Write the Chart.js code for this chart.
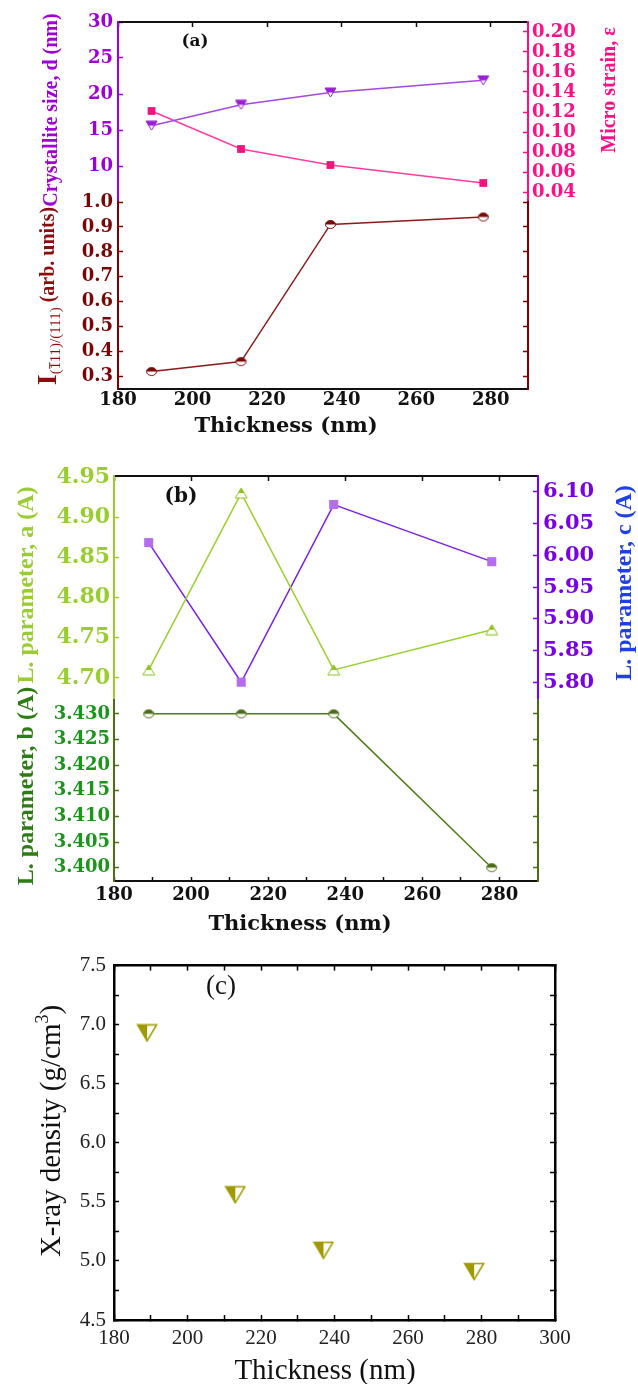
<!DOCTYPE html>
<html>
<head>
<meta charset="utf-8">
<script src="https://cdn.jsdelivr.net/npm/chart.js@4.4.0/dist/chart.umd.min.js"></script>
<style>
  html, body { margin: 0; padding: 0; background: #fff; }
  body { width: 638px; height: 1384px; position: relative; overflow: hidden; }
  canvas { position: absolute; left: 0; display: block; }
</style>
</head>
<body>
<canvas id="chA" width="638" height="445" style="top:0"></canvas>
<canvas id="chB" width="638" height="495" style="top:445px"></canvas>
<canvas id="chC" width="638" height="444" style="top:940px"></canvas>
<script>
// film thickness (nm)
var thickness = [189, 213, 237, 278];

// (a) crystallite size, micro strain, peak intensity ratio
var crystalliteSize = [15.6, 18.5, 20.2, 21.9];
var microStrain = [0.121, 0.083, 0.067, 0.049];
var intensityRatio = [0.32, 0.36, 0.91, 0.94];

// (b) lattice parameters
var latticeA = [4.71, 4.93, 4.71, 4.76];
var latticeB = [3.430, 3.430, 3.430, 3.400];
var latticeC = [6.02, 5.80, 6.08, 5.99];

// (c) x-ray density
var xrayDensity = [6.93, 5.56, 5.09, 4.91];

// tick labels
var thicknessTicks = [180, 200, 220, 240, 260, 280];
var thicknessMinorB = [190, 210, 230, 250, 270];
var sizeTicks = [10, 15, 20, 25, 30];
var strainTicks = [0.04, 0.06, 0.08, 0.10, 0.12, 0.14, 0.16, 0.18, 0.20];
var intensityTicks = [0.3, 0.4, 0.5, 0.6, 0.7, 0.8, 0.9, 1.0];
var aTicks = [4.70, 4.75, 4.80, 4.85, 4.90, 4.95];
var bTicks = [3.400, 3.405, 3.410, 3.415, 3.420, 3.425, 3.430];
var cTicks = [5.80, 5.85, 5.90, 5.95, 6.00, 6.05, 6.10];
var densityTicks = [4.5, 5.0, 5.5, 6.0, 6.5, 7.0, 7.5];
var densityMinor = [4.75, 5.25, 5.75, 6.25, 6.75, 7.25];
var thicknessTicksC = [180, 200, 220, 240, 260, 280, 300];
var thicknessMinorC = [190, 210, 230, 250, 270, 290];

function pairs(values) {
  return thickness.map(function (t, i) { return {x: t, y: values[i]}; });
}

// small canvases used as point styles
function marker(w, h, color, draw) {
  var c = document.createElement('canvas');
  c.width = w + 2; c.height = h + 2;
  var g = c.getContext('2d');
  g.translate(1, 1);
  g.lineWidth = 1;
  g.strokeStyle = color;
  draw(g, w, h, color);
  return c;
}
function poly(g, pts) {
  g.beginPath();
  g.moveTo(pts[0][0], pts[0][1]);
  for (var i = 1; i < pts.length; i++) g.lineTo(pts[i][0], pts[i][1]);
  g.closePath();
}
function halfDisc(g, w, h, color) {
  g.beginPath(); g.ellipse(w / 2, h / 2, w / 2 - 0.5, h / 2 - 0.5, 0, 0, Math.PI * 2);
  g.fillStyle = '#fff'; g.fill(); g.stroke();
  g.beginPath(); g.ellipse(w / 2, h / 2, w / 2 - 0.5, h / 2 - 0.5, 0, Math.PI, 0); g.closePath();
  g.fillStyle = color; g.fill();
}
function triDownTop(g, w, h, color) {
  poly(g, [[0, 0], [w, 0], [w / 2, h]]); g.fillStyle = '#fff'; g.fill(); g.stroke();
  poly(g, [[0, 0], [w, 0], [w * 0.75, h / 2], [w * 0.25, h / 2]]); g.fillStyle = color; g.fill();
}
function triUpTop(g, w, h, color) {
  poly(g, [[w / 2, 0], [w, h], [0, h]]); g.fillStyle = '#fff'; g.fill(); g.stroke();
  poly(g, [[w / 2, 0], [w * 0.75, h / 2], [w * 0.25, h / 2]]); g.fillStyle = color; g.fill();
}
function triDownLeft(g, w, h, color) {
  g.lineWidth = 1.5;
  poly(g, [[0.5, 0.5], [w - 0.5, 0.5], [w / 2, h - 0.5]]); g.fillStyle = '#fff'; g.fill();
  poly(g, [[0.5, 0.5], [w / 2, 0.5], [w / 2, h - 0.5]]); g.fillStyle = color; g.fill();
  poly(g, [[0.5, 0.5], [w - 0.5, 0.5], [w / 2, h - 0.5]]); g.stroke();
}

// axis builder: inward ticks, fixed box size, explicit tick list
function makeAxis(o) {
  return {
    type: 'linear',
    position: o.pos,
    stack: o.stack,
    stackWeight: o.weight || 1,
    weight: o.order || 0,
    min: o.min,
    max: o.max,
    bounds: 'data',
    afterBuildTicks: function (s) {
      var list = o.ticks.map(function (v) { return {value: v}; });
      (o.minor || []).forEach(function (v) { list.push({value: v, minor: true}); });
      list.sort(function (a, b) { return a.value - b.value; });
      s.ticks = list;
    },
    afterFit: function (s) {
      if (s.isHorizontal()) s.height = o.size; else s.width = o.size;
    },
    grid: {
      drawOnChartArea: false,
      drawTicks: o.tickLen > 0,
      tickLength: -(o.tickLen || 0),
      tickWidth: o.tickWidth || 1.5,
      color: o.color
    },
    border: {color: o.color, width: o.lineWidth || 2},
    ticks: {
      display: !!o.font,
      autoSkip: false,
      maxRotation: 0,
      minRotation: 0,
      padding: o.pad || 0,
      color: o.labelColor || o.color,
      font: o.font,
      callback: function (v, i, t) { return t[i].minor ? '' : v.toFixed(o.digits || 0); }
    }
  };
}

// axis titles and panel letters; a part may carry an overbar on some characters
function textLayer(items) {
  return {
    id: 'panelText',
    afterDraw: function (chart) {
      var ctx = chart.ctx;
      items.forEach(function (it) {
        ctx.save();
        ctx.translate(it.x, it.y);
        if (it.rotate) ctx.rotate(-Math.PI / 2);
        ctx.textBaseline = 'middle';
        ctx.textAlign = 'left';
        var total = 0, widths = [];
        it.parts.forEach(function (p) {
          ctx.font = p.font;
          var w = ctx.measureText(p.text).width;
          widths.push(w); total += w;
        });
        var x = -total / 2;
        it.parts.forEach(function (p, i) {
          ctx.font = p.font;
          ctx.fillStyle = p.color || it.color;
          ctx.fillText(p.text, x, p.dy || 0);
          if (p.bar) {
            var x0 = x + ctx.measureText(p.text.slice(0, p.bar[0])).width;
            var x1 = x + ctx.measureText(p.text.slice(0, p.bar[1])).width;
            var yb = (p.dy || 0) - p.size * 0.42;
            ctx.strokeStyle = p.color || it.color;
            ctx.lineWidth = 1;
            ctx.beginPath(); ctx.moveTo(x0 + 0.5, yb); ctx.lineTo(x1 - 0.5, yb); ctx.stroke();
          }
          x += widths[i];
        });
        ctx.restore();
      });
    }
  };
}

var baseOptions = function (scales) {
  return {
    responsive: false,
    animation: false,
    events: [],
    layout: {padding: 0},
    plugins: {legend: {display: false}, tooltip: {enabled: false}},
    elements: {line: {tension: 0}},
    scales: scales
  };
};

var boldTick = function (size) { return {family: '"DejaVu Serif"', size: size, weight: 'bold'}; };

/* ---------- (a) ---------- */
var purple = '#a000d6', pink = '#ff0f87', darkRed = '#800000';

new Chart(document.getElementById('chA'), {
  type: 'line',
  data: {
    datasets: [
      {data: pairs(crystalliteSize), yAxisID: 'ySize', borderColor: '#a348e0', borderWidth: 1.5,
        pointStyle: marker(11, 9, '#9a1fd6', triDownTop), pointRadius: 5},
      {data: pairs(microStrain), yAxisID: 'yStrain', borderColor: '#ff3d9e', borderWidth: 1.5,
        pointStyle: 'rect', pointRadius: 5.5, pointBackgroundColor: '#f2137e', pointBorderWidth: 0},
      {data: pairs(intensityRatio), yAxisID: 'yInt', borderColor: '#8b1a1a', borderWidth: 1.5,
        pointStyle: marker(11, 9, '#7a0a0a', halfDisc), pointRadius: 5}
    ]
  },
  options: baseOptions({
    x: makeAxis({pos: 'bottom', min: 180, max: 290, ticks: thicknessTicks, color: '#111',
      font: boldTick(18), pad: 1, tickLen: 0, size: 56}),
    xTop: makeAxis({pos: 'top', min: 180, max: 290, ticks: thicknessTicks, color: '#111', tickLen: 5, size: 22}),
    ySize: makeAxis({pos: 'left', stack: 'left', weight: 180, order: 1, min: 5, max: 30, ticks: sizeTicks,
      color: purple, font: boldTick(18), pad: 10, tickLen: 5, size: 118}),
    yInt: makeAxis({pos: 'left', stack: 'left', weight: 187, order: 0, min: 0.25, max: 1.0, ticks: intensityTicks,
      color: darkRed, labelColor: '#7a0505', font: boldTick(18), pad: 10, tickLen: 5, size: 118, digits: 1}),
    yStrain: makeAxis({pos: 'right', stack: 'right', weight: 180, order: 0, min: 0.03, max: 0.21, ticks: strainTicks,
      color: pink, font: boldTick(18), pad: 9, tickLen: 5, size: 110, digits: 2}),
    yIntR: makeAxis({pos: 'right', stack: 'right', weight: 187, order: 1, min: 0.25, max: 1.0, ticks: intensityTicks,
      color: darkRed, tickLen: 5, size: 110})
  }),
  plugins: [textLayer([
    {x: 52, y: 110, rotate: true, color: purple,
      parts: [{text: 'Crystallite size, d (nm)', font: 'bold 20px "Liberation Serif"'}]},
    {x: 49, y: 296, rotate: true, color: '#8b0d0d',
      parts: [{text: 'I', font: 'bold 28px "Liberation Serif"'},
        {text: '(111)/(111)', font: '15px "Liberation Serif"', size: 15, dy: 7, bar: [1, 2]},
        {text: ' (arb. units)', font: 'bold 20px "Liberation Serif"'}]},
    {x: 610, y: 90, rotate: true, color: pink,
      parts: [{text: 'Micro strain, \u03b5', font: 'bold 20px "Liberation Serif"'}]},
    {x: 195, y: 42, color: '#111', parts: [{text: '(a)', font: 'bold 17px "DejaVu Serif"'}]},
    {x: 286, y: 427, color: '#111', parts: [{text: 'Thickness (nm)', font: 'bold 21px "DejaVu Serif"'}]}
  ])]
});

/* ---------- (b) ---------- */
var green = '#9acd32', violet = '#7b00f0', olive = '#4b6e14';

new Chart(document.getElementById('chB'), {
  type: 'line',
  data: {
    datasets: [
      {data: pairs(latticeA), yAxisID: 'yA', borderColor: '#9bd12e', borderWidth: 1.5,
        pointStyle: marker(12, 10, '#8cc21f', triUpTop), pointRadius: 5},
      {data: pairs(latticeC), yAxisID: 'yC', borderColor: '#7a1fe6', borderWidth: 1.5,
        pointStyle: 'rect', pointRadius: 6.4, pointBackgroundColor: '#b46ded', pointBorderWidth: 0},
      {data: pairs(latticeB), yAxisID: 'yB', borderColor: '#4f7d16', borderWidth: 1.5,
        pointStyle: marker(11, 9, '#4a6e14', halfDisc), pointRadius: 5}
    ]
  },
  options: baseOptions({
    x: makeAxis({pos: 'bottom', min: 180, max: 290, ticks: thicknessTicks, minor: thicknessMinorB, color: '#111',
      font: boldTick(18), pad: 8, tickLen: 4, size: 59}),
    xTop: makeAxis({pos: 'top', min: 180, max: 290, ticks: thicknessTicks, color: '#111', tickLen: 5, size: 31}),
    yA: makeAxis({pos: 'left', stack: 'left', weight: 224, order: 1, min: 4.6726, max: 4.9512, ticks: aTicks,
      color: green, font: boldTick(22), pad: 9, tickLen: 5, size: 114, digits: 2}),
    yB: makeAxis({pos: 'left', stack: 'left', weight: 181, order: 0, min: 3.3974, max: 3.4327, ticks: bTicks,
      color: olive, labelColor: '#1a961a', font: boldTick(18), pad: 9, tickLen: 5, size: 114, digits: 3}),
    yC: makeAxis({pos: 'right', stack: 'right', weight: 224, order: 0, min: 5.772, max: 6.125, ticks: cTicks,
      color: violet, labelColor: '#7a00e6', font: boldTick(21), pad: 10, tickLen: 5, size: 100, digits: 2}),
    yBR: makeAxis({pos: 'right', stack: 'right', weight: 181, order: 1, min: 3.3974, max: 3.4327, ticks: bTicks,
      color: olive, tickLen: 5, size: 100})
  }),
  plugins: [textLayer([
    {x: 27, y: 140, rotate: true, color: green,
      parts: [{text: 'L. parameter, a (A)', font: 'bold 24px "Liberation Serif"'}]},
    {x: 27, y: 341, rotate: true, color: '#2e7d14',
      parts: [{text: 'L. parameter, b (A)', font: 'bold 24px "Liberation Serif"'}]},
    {x: 625, y: 138, rotate: true, color: '#1f40e8',
      parts: [{text: 'L. parameter, c (A)', font: 'bold 24px "Liberation Serif"'}]},
    {x: 181, y: 52, color: '#111', parts: [{text: '(b)', font: 'bold 20px "DejaVu Serif"'}]},
    {x: 300, y: 480, color: '#111', parts: [{text: 'Thickness (nm)', font: 'bold 21px "DejaVu Serif"'}]}
  ])]
});

/* ---------- (c) ---------- */
var serifC = {family: '"Liberation Serif"', size: 21};

new Chart(document.getElementById('chC'), {
  type: 'scatter',
  data: {
    datasets: [
      {data: pairs(xrayDensity), pointStyle: marker(20, 17, '#a09a00', triDownLeft), pointRadius: 8}
    ]
  },
  options: baseOptions({
    x: makeAxis({pos: 'bottom', min: 180, max: 300, ticks: thicknessTicksC, minor: thicknessMinorC, color: '#000',
      labelColor: '#222', font: serifC, pad: 11, tickLen: 5, size: 64, lineWidth: 2.5}),
    xTop: makeAxis({pos: 'top', min: 180, max: 300, ticks: thicknessTicksC, minor: thicknessMinorC, color: '#000',
      tickLen: 5, size: 21, lineWidth: 2.5}),
    y: makeAxis({pos: 'left', min: 4.5, max: 7.5, ticks: densityTicks, minor: densityMinor, color: '#000',
      labelColor: '#222', font: serifC, pad: 13, tickLen: 5, size: 114, digits: 1, lineWidth: 2.5}),
    yR: makeAxis({pos: 'right', min: 4.5, max: 7.5, ticks: densityTicks, minor: densityMinor, color: '#000',
      tickLen: 5, size: 83, lineWidth: 2.5})
  }),
  plugins: [textLayer([
    {x: 52, y: 191, rotate: true, color: '#111',
      parts: [{text: 'X-ray density (g/cm', font: '29px "Liberation Serif"'},
        {text: '3', font: '18px "Liberation Serif"', dy: -9},
        {text: ')', font: '29px "Liberation Serif"'}]},
    {x: 221, y: 47, color: '#111', parts: [{text: '(c)', font: '27px "Liberation Serif"'}]},
    {x: 325, y: 431, color: '#111', parts: [{text: 'Thickness (nm)', font: '29px "Liberation Serif"'}]}
  ])]
});
</script>
</body>
</html>
